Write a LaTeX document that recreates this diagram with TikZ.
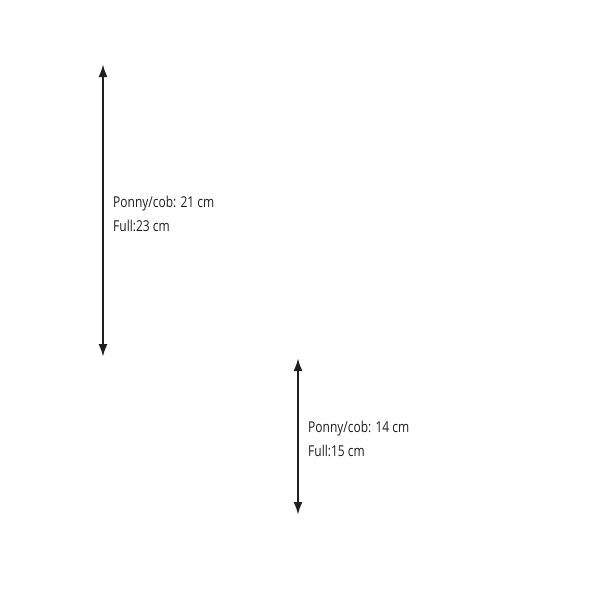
\documentclass[tikz,border=0pt]{standalone}
\usepackage{fontspec}
\setmainfont[FakeStretch=0.8]{Open Sans}
\usetikzlibrary{arrows.meta}

\begin{document}
\begin{tikzpicture}[x=1pt,y=-1pt,
  measure/.style={{Latex[length=13pt,width=9pt]}-{Latex[length=13pt,width=9pt]},line width=2.2pt,black!88},
  label/.style={anchor=west,align=left,font=\fontsize{15}{24}\selectfont,text=black!88,inner sep=0pt}]
  \useasboundingbox (0,0) rectangle (600,600);

  % Long strap
  \coordinate (longtop) at (103,64);
  \coordinate (longbot) at (103,357);
  \draw[measure] (longtop) -- (longbot);
  \node[label] (longtext) at (113,214) {Ponny/cob: 21 cm\\Full:23 cm};

  % Short strap
  \coordinate (shorttop) at (298,358);
  \coordinate (shortbot) at (298,515);
  \draw[measure] (shorttop) -- (shortbot);
  \node[label] (shorttext) at (308,439) {Ponny/cob: 14 cm\\Full:15 cm};
\end{tikzpicture}
\end{document}
